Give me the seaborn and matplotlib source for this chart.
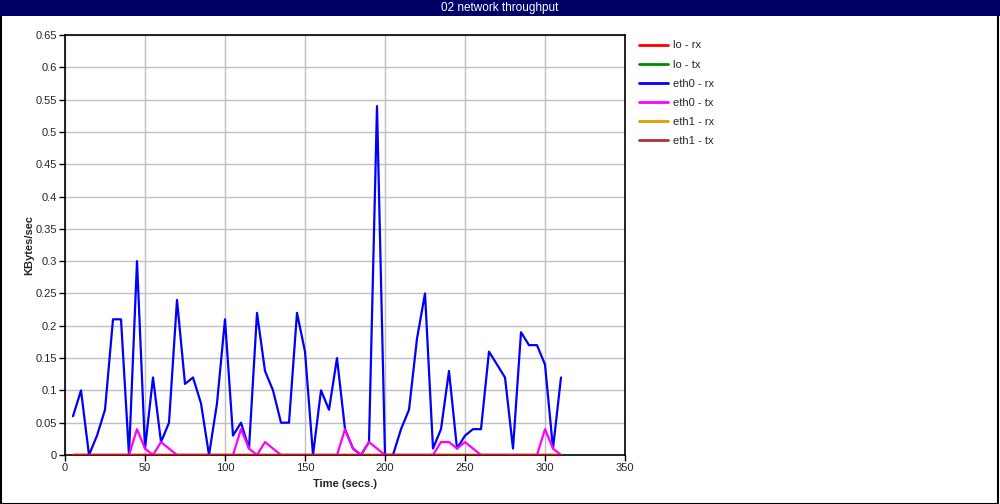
import numpy as np
import pandas as pd
import matplotlib
matplotlib.use("Agg")
import matplotlib.pyplot as plt
import seaborn as sns
from matplotlib.patches import Rectangle
from matplotlib.lines import Line2D

time = list(range(5, 315, 5))
eth0_rx = [0.06, 0.10, 0.00, 0.03, 0.07, 0.21, 0.21, 0.00, 0.30, 0.01,
           0.12, 0.02, 0.05, 0.24, 0.11, 0.12, 0.08, 0.00, 0.08, 0.21,
           0.03, 0.05, 0.01, 0.22, 0.13, 0.10, 0.05, 0.05, 0.22, 0.16,
           0.00, 0.10, 0.07, 0.15, 0.04, 0.01, 0.00, 0.02, 0.54, 0.00,
           0.00, 0.04, 0.07, 0.18, 0.25, 0.01, 0.04, 0.13, 0.01, 0.03,
           0.04, 0.04, 0.16, 0.14, 0.12, 0.01, 0.19, 0.17, 0.17, 0.14,
           0.01, 0.12]
eth0_tx = [0.00, 0.00, 0.00, 0.00, 0.00, 0.00, 0.00, 0.00, 0.04, 0.01,
           0.00, 0.02, 0.01, 0.00, 0.00, 0.00, 0.00, 0.00, 0.00, 0.00,
           0.00, 0.04, 0.01, 0.00, 0.02, 0.01, 0.00, 0.00, 0.00, 0.00,
           0.00, 0.00, 0.00, 0.00, 0.04, 0.01, 0.00, 0.02, 0.01, 0.00,
           0.00, 0.00, 0.00, 0.00, 0.00, 0.00, 0.02, 0.02, 0.01, 0.02,
           0.01, 0.00, 0.00, 0.00, 0.00, 0.00, 0.00, 0.00, 0.00, 0.04,
           0.01, 0.00]
lo_rx = [0.0] * len(time)
lo_tx = [0.0] * len(time)
eth1_rx = [0.0] * len(time)
eth1_tx = [0.0] * len(time)

series_names = ["lo - rx", "lo - tx", "eth0 - rx", "eth0 - tx", "eth1 - rx", "eth1 - tx"]
series_values = [lo_rx, lo_tx, eth0_rx, eth0_tx, eth1_rx, eth1_tx]
colors = ["#ff0000", "#008c00", "#0000ff", "#ff00ff", "#e69900", "#a83232"]

title = "02 network throughput"
x_label = "Time (secs.)"
y_label = "KBytes/sec"
x_ticks = [0, 50, 100, 150, 200, 250, 300, 350]
y_ticks = [0, 0.05, 0.1, 0.15, 0.2, 0.25, 0.3, 0.35, 0.4, 0.45, 0.5, 0.55, 0.6, 0.65]
y_tick_labels = ["0", "0.05", "0.1", "0.15", "0.2", "0.25", "0.3", "0.35",
                 "0.4", "0.45", "0.5", "0.55", "0.6", "0.65"]

df = pd.concat([pd.DataFrame({"time": time, "value": v, "series": n})
                for n, v in zip(series_names, series_values)], ignore_index=True)

sns.set_theme(style="white")
plt.rcParams["font.family"] = ["Liberation Sans", "DejaVu Sans"]

W, H = 1000, 504
fig = plt.figure(figsize=(W / 100, H / 100), dpi=100)
fig.patch.set_facecolor("white")

# outer border and title bar
fig.add_artist(Rectangle((0.5 / W, 0.5 / H), 1 - 2.5 / W, 1 - 1.5 / H, transform=fig.transFigure,
                         fill=False, edgecolor="black", linewidth=1.5))
fig.add_artist(Rectangle((0, 1 - 16 / H), 1, 16 / H, transform=fig.transFigure,
                         facecolor="#000066", edgecolor="none"))
fig.text(0.5, 1 - 8 / H, title, color="white", ha="center", va="center", fontsize=8.5)

ax = fig.add_axes([65 / W, (H - 455) / H, 560 / W, 420 / H])
ax.set_facecolor("white")

palette = dict(zip(series_names, colors))
sns.lineplot(data=df, x="time", y="value", hue="series", hue_order=series_names,
             palette=palette, linewidth=1.6, ax=ax, legend=False)
zorders = {"lo - rx": 5, "eth0 - rx": 3, "eth0 - tx": 4}
for ln, name in zip(ax.get_lines(), series_names):
    ln.set_zorder(zorders.get(name, 2))

ax.set_xlim(0, 350)
ax.set_ylim(0, 0.65)
ax.set_xticks(x_ticks)
ax.set_xticklabels([str(t) for t in x_ticks])
ax.set_yticks(y_ticks)
ax.set_yticklabels(y_tick_labels)
ax.grid(True, color="#c0c0c0", linewidth=1.0)
ax.set_axisbelow(True)
for sp in ax.spines.values():
    sp.set_color("black")
    sp.set_linewidth(1.2)
ax.tick_params(axis="both", direction="out", length=4, width=1, color="black",
               labelsize=8, pad=2, left=True, bottom=True)
ax.set_xlabel(x_label, fontsize=8, fontweight="bold", labelpad=4)
ax.set_ylabel(y_label, fontsize=8, fontweight="bold", labelpad=1)

handles = [Line2D([0], [0], color=c, linewidth=2) for c in colors]
fig.legend(handles, series_names, loc="upper left", bbox_to_anchor=(635 / W, 1 - 36 / H),
           frameon=False, fontsize=8, handlelength=2.6, handletextpad=0.45,
           labelspacing=0.82, borderaxespad=0)

fig.savefig("out.png", dpi=100, facecolor="white")
